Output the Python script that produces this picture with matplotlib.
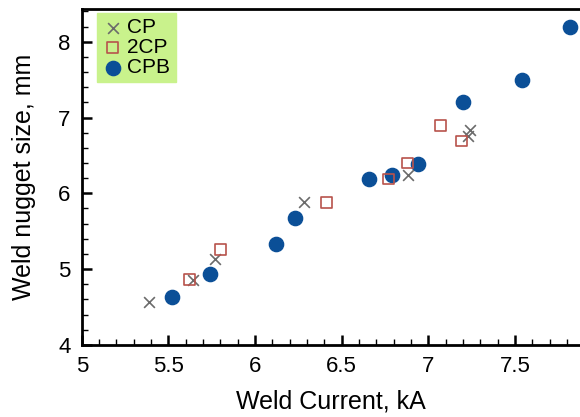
import matplotlib
matplotlib.use("Agg")
import matplotlib.pyplot as plt
from matplotlib.ticker import MultipleLocator, FuncFormatter

plt.rcParams['font.family'] = ['Liberation Sans', 'DejaVu Sans']

# weld current (kA) vs nugget size (mm)
cp_current = [5.39, 5.64, 5.77, 6.28, 6.88, 7.24, 7.23]
cp_nugget = [4.57, 4.85, 5.13, 5.88, 6.24, 6.84, 6.75]

cp2_current = [5.62, 5.80, 6.41, 6.77, 6.88, 7.07, 7.19]
cp2_nugget = [4.86, 5.26, 5.88, 6.19, 6.40, 6.89, 6.69]

cpb_current = [5.52, 5.74, 6.12, 6.23, 6.66, 6.79, 6.94, 7.20, 7.54, 7.82]
cpb_nugget = [4.63, 4.93, 5.33, 5.68, 6.19, 6.24, 6.39, 7.20, 7.50, 8.20]

fig = plt.figure(figsize=(5.8, 4.17), dpi=100)
ax = fig.add_axes([0.141, 0.173, 0.859, 0.805])

ax.scatter(cp_current, cp_nugget, marker='x', s=60, color='#6b6b6b',
           linewidths=1.2, label='CP', zorder=3)
ax.scatter(cp2_current, cp2_nugget, marker='s', s=60, facecolors='none',
           edgecolors='#b8534c', linewidths=1.2, label='2CP', zorder=3)
ax.scatter(cpb_current, cpb_nugget, marker='o', s=105, color='#0b4f97',
           label='CPB', zorder=2)

ax.set_xlim(5, 7.875)
ax.set_ylim(4, 8.43)
ax.xaxis.set_major_locator(MultipleLocator(0.5))
ax.xaxis.set_minor_locator(MultipleLocator(0.1))
ax.yaxis.set_major_locator(MultipleLocator(1))
ax.yaxis.set_minor_locator(MultipleLocator(0.2))
ax.xaxis.set_major_formatter(FuncFormatter(lambda v, p: f"{v:g}"))

ax.tick_params(which='major', direction='in', length=7, width=1.8, labelsize=16, pad=8)
ax.tick_params(which='minor', direction='in', length=4, width=1.0)
ax.tick_params(top=False, right=False, which='both')

for side in ['left', 'bottom', 'top']:
    ax.spines[side].set_linewidth(2)
ax.spines['right'].set_visible(False)

ax.set_xlabel("Weld Current, kA", fontsize=18, labelpad=9)
ax.set_ylabel("Weld nugget size, mm", fontsize=18, labelpad=16)

leg = ax.legend(loc='upper left', bbox_to_anchor=(0.031, 0.989), borderaxespad=0,
                fontsize=15, frameon=True, fancybox=False, framealpha=1,
                handletextpad=0.2, labelspacing=0.05, handlelength=1.0,
                borderpad=0.25, scatterpoints=1)
leg.get_frame().set_facecolor('#c9f28c')
leg.get_frame().set_edgecolor('#c9f28c')

fig.savefig("out.png", dpi=100)
